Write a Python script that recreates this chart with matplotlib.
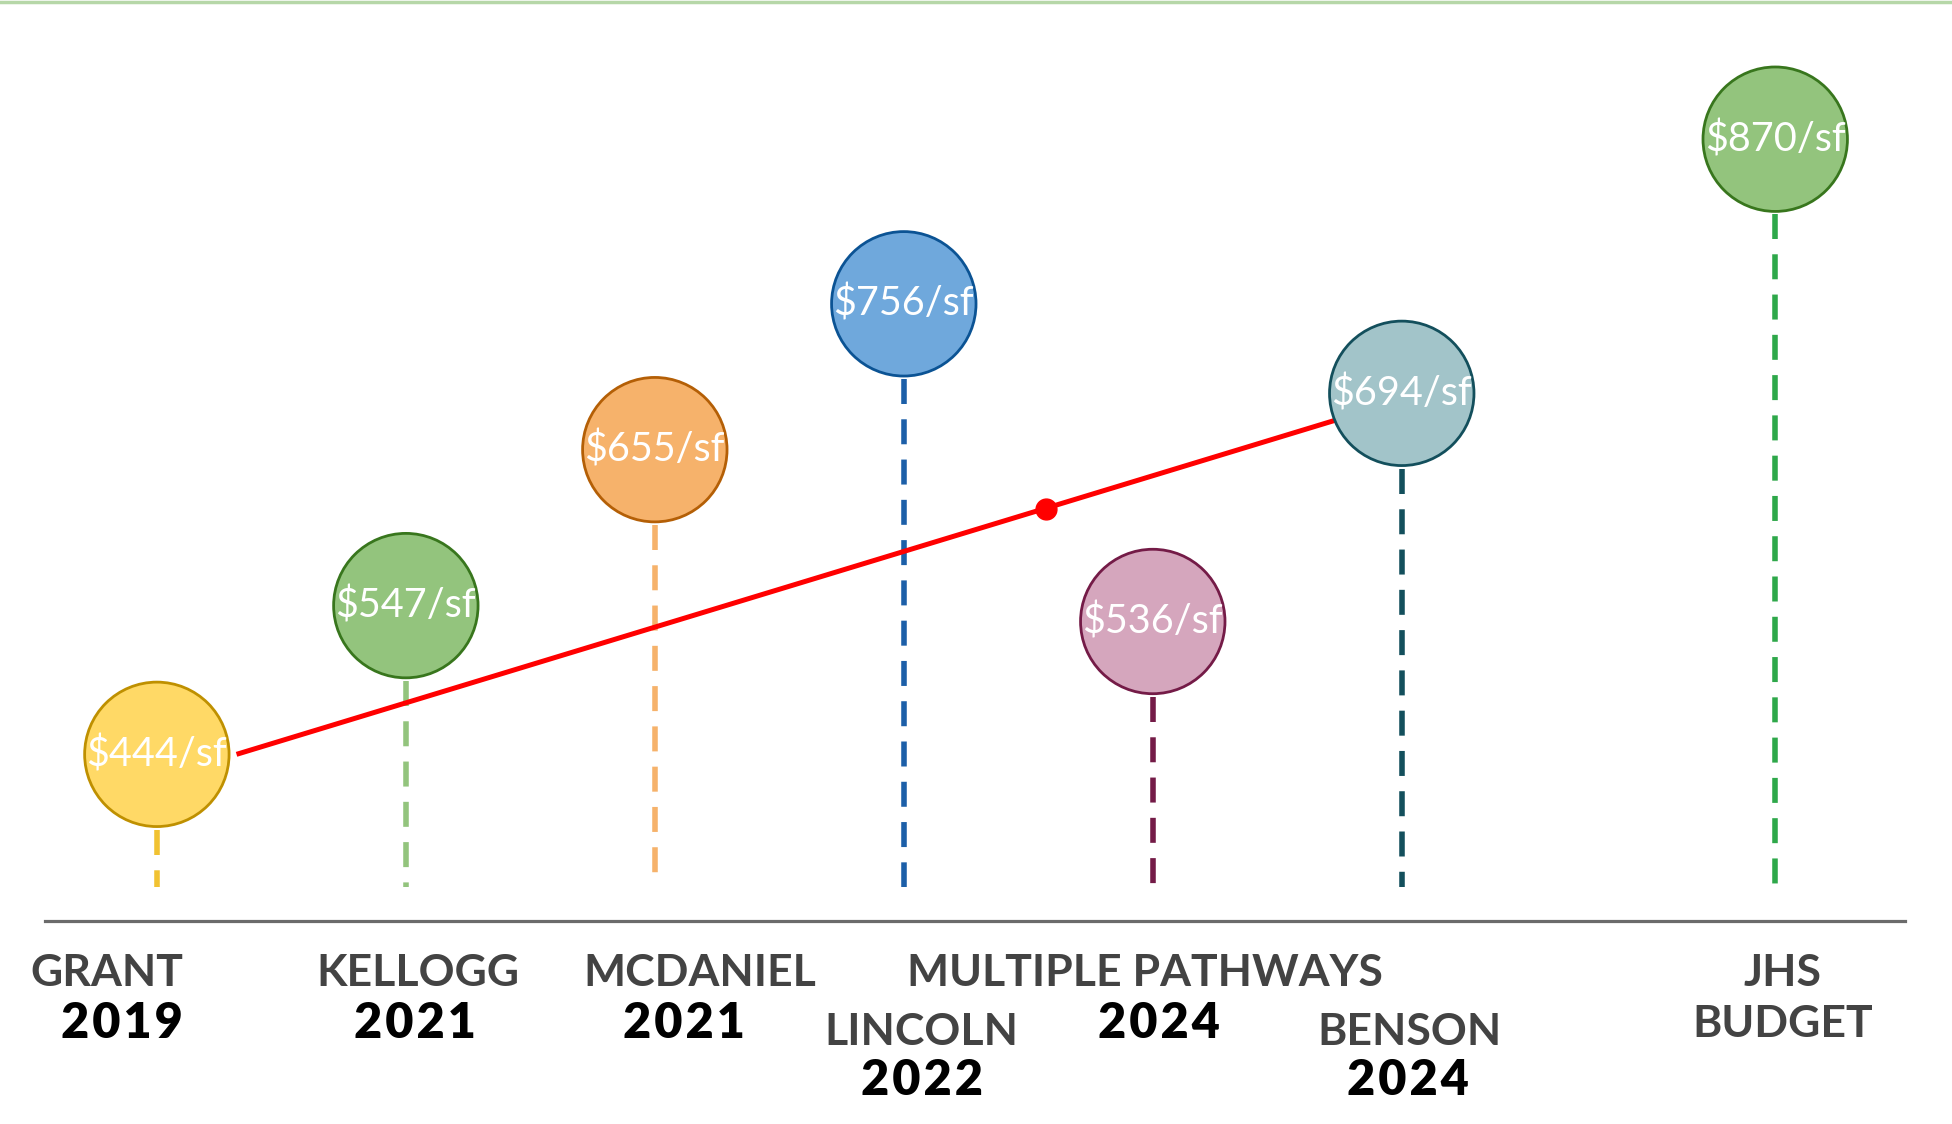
import matplotlib

matplotlib.use("Agg")

import matplotlib.pyplot as plt  # noqa: E402
from matplotlib.lines import Line2D  # noqa: E402

# --------------------------------------------------------------------------- #
# Data
# --------------------------------------------------------------------------- #
names = ["GRANT", "KELLOGG", "MCDANIEL", "LINCOLN", "MULTIPLE PATHWAYS", "BENSON", "JHS"]
years = ["2019", "2021", "2021", "2022", "2024", "2024", "BUDGET"]
cost_per_sf = [444, 547, 655, 756, 536, 694, 870]

# trend line (red) and its marker
trend_x = [0.32, 4.745]
trend_y = [444, 676]
trend_dot_x = [3.57]
trend_dot_y = [614]

# --------------------------------------------------------------------------- #
# Layout / style
# --------------------------------------------------------------------------- #
slot = [0, 1, 2, 3, 4, 5, 6.5]
label_dx = [-0.2, 0.05, 0.18, 0.07, -0.03, 0.03, 0.03]
year_dx = [-0.14, 0.035, 0.115, 0.075, 0.025, 0.025, 0.03]
label_row = [0, 0, 0, 1, 0, 1, 0]

fills = ["#ffd966", "#93c47d", "#f6b26b", "#6fa8dc", "#d5a6bd", "#a2c4c9", "#93c47d"]
edges = ["#bf9000", "#38761d", "#b45f06", "#0b5394", "#741b47", "#134f5c", "#38761d"]
stems = ["#f1c232", "#93c47d", "#f6b26b", "#1c5fa8", "#741b47", "#134f5c", "#2ea84a"]

BASE = 328.5
STEM_END = 352
RADIUS_PT = 52

plt.rcParams["font.family"] = ["Lato", "DejaVu Sans"]
plt.rcParams["lines.scale_dashes"] = False

fig = plt.figure(figsize=(19.52, 11.24), dpi=100)
ax = fig.add_axes([0, 0, 1, 1])
ax.set_xlim(-0.63, 7.21)
ax.set_ylim(188, 966.4)
ax.axis("off")

# top rule
fig.add_artist(Line2D([0, 1], [0.9985, 0.9985], transform=fig.transFigure,
                      color="#b6d7a8", lw=2.5))

# baseline
ax.axhline(BASE, xmin=36 / 1568, xmax=1530 / 1568, color="#6b6b6b", lw=2.3, zorder=1)

# trend
ax.plot(trend_x, trend_y, color="#ff0000", lw=3.6, solid_capstyle="butt", zorder=2)
ax.plot(trend_dot_x, trend_dot_y, "o", color="#ff0000", ms=15, zorder=2)

# stems start just under each circle
radius_px = RADIUS_PT * fig.dpi / 72.0
for x, v, c in zip(slot, cost_per_sf, stems):
    px, py = ax.transData.transform((x, v))
    _, top = ax.transData.inverted().transform((px, py - radius_px - 3))
    ax.plot([x, x], [top, STEM_END], color=c, lw=4,
            linestyle=(0, (18, 11)), zorder=1)

# circles
ax.scatter(slot, cost_per_sf, s=(2 * RADIUS_PT) ** 2, c=fills, edgecolors=edges,
           linewidths=2.0, zorder=3)
for x, v in zip(slot, cost_per_sf):
    ax.text(x, v, f"${v}/sf", color="white", fontsize=28.5, ha="center", va="center",
            zorder=4)

# labels under the baseline
name_y = [0.134, 0.082]
year_y = [0.089, 0.039]
xt = ax.get_xaxis_transform()
for i, (n, yr) in enumerate(zip(names, years)):
    r = label_row[i]
    ax.text(slot[i] + label_dx[i], name_y[r], n, transform=xt, ha="center",
            va="center", fontsize=32, fontweight="bold", color="#434343")
    if yr.isdigit():
        ax.text(slot[i] + year_dx[i], year_y[r], "\u200a".join(yr), transform=xt,
                ha="center", va="center", fontsize=35, fontweight="heavy",
                color="black")
    else:
        ax.text(slot[i] + year_dx[i], year_y[r], yr, transform=xt, ha="center",
                va="center", fontsize=32, fontweight="bold", color="#434343")

fig.savefig("out.png", dpi=100)
